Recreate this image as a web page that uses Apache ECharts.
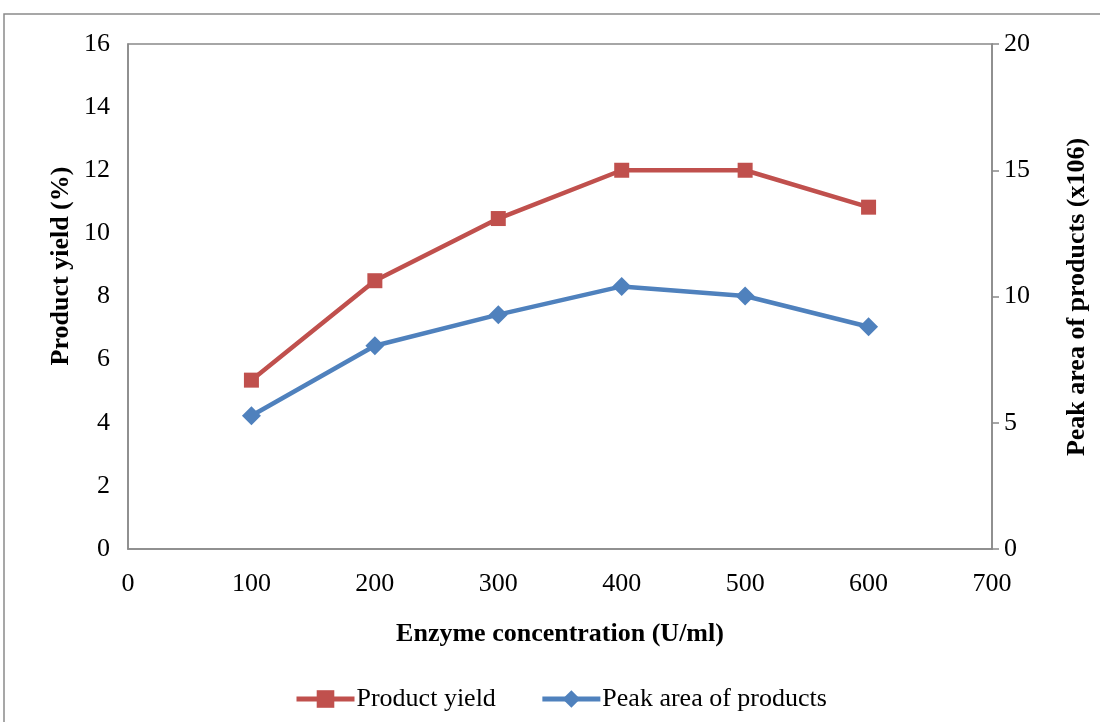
<!DOCTYPE html>
<html>
<head>
<meta charset="utf-8">
<title>Enzyme concentration</title>
<script src="https://cdn.jsdelivr.net/npm/echarts@6/dist/echarts.min.js"></script>
<style>
  html, body { margin: 0; padding: 0; background: #fff; }
  #chart { width: 1100px; height: 722px; }
</style>
</head>
<body>
<div id="chart"></div>
<script>
// Enzyme concentration (U/ml)
const concentrations = [100, 200, 300, 400, 500, 600];
// Product yield (%) — left axis
const productYield = [5.35, 8.5, 10.47, 12.0, 12.0, 10.83];
// Peak area of products (x106) — right axis
const peakArea = [5.28, 8.05, 9.28, 10.4, 10.02, 8.8];

const xTicks = { min: 0, max: 700, interval: 100 };
const yLeftTicks = { min: 0, max: 16, interval: 2 };
const yRightTicks = { min: 0, max: 20, interval: 5 };

const serif = '"Liberation Serif", "DejaVu Serif", serif';
const axisGray = '#898989';
const labelSize = 26;
const titleSize = 26;

const chart = echarts.init(document.getElementById('chart'), null, { renderer: 'canvas' });

const pairs = (xs, ys) => xs.map((x, i) => [x, ys[i]]);

chart.setOption({
  animation: false,
  backgroundColor: '#fff',
  textStyle: { fontFamily: serif, color: '#000' },
  graphic: [
    {
      type: 'rect',
      shape: { x: 4, y: 14, width: 1110, height: 730 },
      style: { fill: 'none', stroke: '#8a8a8a', lineWidth: 1.5 },
      silent: true
    },
    {
      type: 'text',
      x: 61, y: 266,
      rotation: Math.PI / 2,
      style: {
        text: 'Product yield (%)',
        font: 'bold ' + titleSize + 'px ' + serif,
        fill: '#000',
        align: 'center',
        verticalAlign: 'middle'
      }
    },
    {
      type: 'text',
      x: 1077, y: 297,
      rotation: Math.PI / 2,
      style: {
        text: 'Peak area of products (x106)',
        font: 'bold ' + titleSize + 'px ' + serif,
        fill: '#000',
        align: 'center',
        verticalAlign: 'middle'
      }
    }
  ],
  grid: {
    left: 128, right: 108, top: 44, bottom: 173,
    show: true,
    borderColor: axisGray,
    borderWidth: 1.5,
    backgroundColor: '#fff'
  },
  legend: {
    bottom: 5,
    left: 289,
    itemWidth: 58,
    itemHeight: 22,
    itemGap: 44,
    lineStyle: { width: 5 },
    textStyle: { fontFamily: serif, fontSize: labelSize, color: '#000', padding: [0, 0, 0, -3] },
    data: ['Product yield', 'Peak area of products']
  },
  xAxis: {
    type: 'value',
    min: xTicks.min, max: xTicks.max, interval: xTicks.interval,
    name: 'Enzyme concentration (U/ml)',
    nameLocation: 'middle',
    nameGap: 72,
    nameTextStyle: { fontFamily: serif, fontSize: titleSize, fontWeight: 'bold', color: '#000' },
    axisLine: { show: true, onZero: false, lineStyle: { color: axisGray, width: 1.5 } },
    axisTick: { show: false },
    splitLine: { show: false },
    axisLabel: { fontFamily: serif, fontSize: labelSize, color: '#000', margin: 22 }
  },
  yAxis: [
    {
      type: 'value',
      position: 'left',
      min: yLeftTicks.min, max: yLeftTicks.max, interval: yLeftTicks.interval,
      axisLine: { show: true, lineStyle: { color: axisGray, width: 1.5 } },
      axisTick: { show: false },
      splitLine: { show: false },
      axisLabel: { fontFamily: serif, fontSize: labelSize, color: '#000', margin: 18 }
    },
    {
      type: 'value',
      position: 'right',
      min: yRightTicks.min, max: yRightTicks.max, interval: yRightTicks.interval,
      axisLine: { show: true, lineStyle: { color: axisGray, width: 1.5 } },
      axisTick: { show: true, inside: false, length: 7, lineStyle: { color: axisGray, width: 1.5 } },
      splitLine: { show: false },
      axisLabel: { fontFamily: serif, fontSize: labelSize, color: '#000', margin: 12 }
    }
  ],
  series: [
    {
      name: 'Product yield',
      type: 'line',
      yAxisIndex: 0,
      data: pairs(concentrations, productYield),
      symbol: 'rect',
      symbolSize: 15,
      lineStyle: { color: '#C0504D', width: 4.5 },
      itemStyle: { color: '#C0504D' }
    },
    {
      name: 'Peak area of products',
      type: 'line',
      yAxisIndex: 1,
      data: pairs(concentrations, peakArea),
      symbol: 'diamond',
      symbolSize: [19, 19],
      lineStyle: { color: '#4F81BD', width: 4.5 },
      itemStyle: { color: '#4F81BD' }
    }
  ]
});
</script>
</body>
</html>
